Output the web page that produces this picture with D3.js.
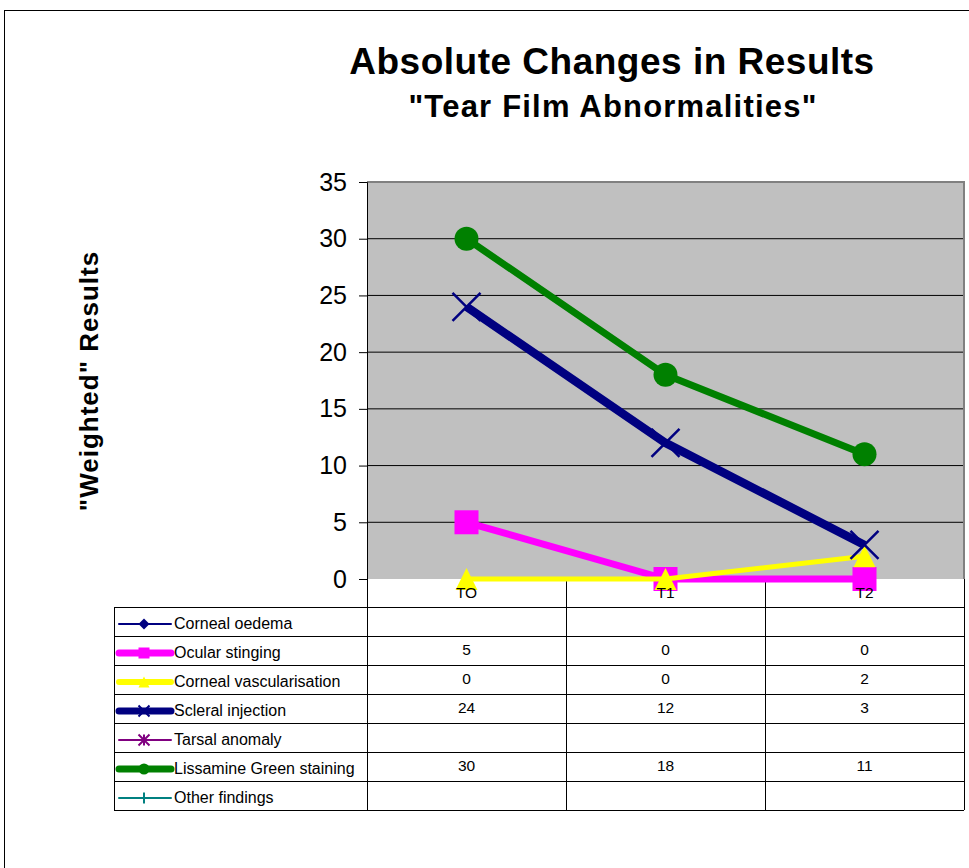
<!DOCTYPE html>
<html><head><meta charset="utf-8">
<script src="https://cdn.jsdelivr.net/npm/d3@7"></script>
<style>body{margin:0;background:#fff}svg{display:block;font-family:"Liberation Sans",Arial,sans-serif}</style>
</head><body>
<svg id="c" width="969" height="868"></svg>
<script>
const categories = ["TO", "T1", "T2"];
const seriesNames = ["Corneal oedema","Ocular stinging","Corneal vascularisation","Scleral injection","Tarsal anomaly","Lissamine Green staining","Other findings"];
const cornealOedema = [null, null, null];
const ocularStinging = [5, 0, 0];
const cornealVascularisation = [0, 0, 2];
const scleralInjection = [24, 12, 3];
const tarsalAnomaly = [null, null, null];
const lissamineGreen = [30, 18, 11];
const otherFindings = [null, null, null];
const yTicks = [0, 5, 10, 15, 20, 25, 30, 35];

const seriesValues = [cornealOedema, ocularStinging, cornealVascularisation, scleralInjection, tarsalAnomaly, lissamineGreen, otherFindings];
const styles = [
  {color:"#000080", w:2, marker:"diamond", ms:12},
  {color:"#FF00FF", w:7, marker:"square", ms:24},
  {color:"#FFFF00", w:5, marker:"triangle", ms:22},
  {color:"#000080", w:8.5, marker:"x", ms:28},
  {color:"#800080", w:2, marker:"asterisk", ms:12},
  {color:"#008000", w:7, marker:"circle", ms:24},
  {color:"#008080", w:2, marker:"plus", ms:12}
];
const legendKeyW = [2,7,6,7,2,7,2];
const legendMs = [11,11,11,11,11,11,11];

const svg = d3.select("#c");
const L = 367, R = 964, T = 182, B = 579;
const x = d3.scaleBand().domain(categories).range([L, R]);
const y = d3.scaleLinear().domain([0, 35]).range([B, T]);

// outer border
svg.append("rect").attr("x",4.5).attr("y",10.5).attr("width",1000).attr("height",1000).attr("fill","none").attr("stroke","#000").attr("stroke-width",1);

// titles
svg.append("text").attr("x",612).attr("y",74).attr("text-anchor","middle").attr("font-size",37).attr("letter-spacing",0.5).attr("font-weight","bold").text("Absolute Changes in Results");
svg.append("text").attr("x",613).attr("y",117).attr("text-anchor","middle").attr("font-size",31).attr("letter-spacing",1.2).attr("font-weight","bold").text("\"Tear Film Abnormalities\"");
svg.append("text").attr("transform","translate(98,381) rotate(-90)").attr("text-anchor","middle").attr("font-size",26).attr("letter-spacing",1).attr("font-weight","bold").text("\"Weighted\" Results");

// plot area
svg.append("rect").attr("x",L).attr("y",T).attr("width",R-L).attr("height",B-T).attr("fill","#C0C0C0");
svg.append("g").selectAll("line").data(yTicks.filter(d=>d>0)).join("line")
  .attr("x1",L).attr("x2",R).attr("y1",d=>y(d)).attr("y2",d=>y(d)).attr("stroke","#000").attr("stroke-width",1);
svg.append("path").attr("d",`M${L},${T}H${R}V${B}`).attr("fill","none").attr("stroke","#808080").attr("stroke-width",2);

// y axis
const yAxis = d3.axisLeft(y).tickValues(yTicks).tickSize(8).tickPadding(12);
const ga = svg.append("g").attr("transform",`translate(${L},0)`).call(yAxis);
ga.select(".domain").attr("stroke","#000");
ga.selectAll("text").attr("font-size",25).attr("font-family","'Liberation Sans',Arial,sans-serif").attr("fill","#000");
ga.selectAll("line").attr("stroke","#000");

// table
const rowH = 29, tTop = 607, tLeft = 114;
const tb = svg.append("g");
for(let i=0;i<=seriesNames.length;i++){
  tb.append("line").attr("x1",tLeft).attr("x2",R).attr("y1",tTop+i*rowH+0.5).attr("y2",tTop+i*rowH+0.5).attr("stroke","#000");
}
tb.append("line").attr("x1",tLeft+0.5).attr("x2",tLeft+0.5).attr("y1",tTop).attr("y2",tTop+7*rowH).attr("stroke","#000");
[...categories.map(c=>x(c)), R].forEach(xx=>{
  tb.append("line").attr("x1",Math.round(xx)+0.5).attr("x2",Math.round(xx)+0.5).attr("y1",B).attr("y2",tTop+7*rowH).attr("stroke","#000");
});

function markerPath(type, s){
  const h=s/2;
  switch(type){
    case "diamond": return `M0,${-h}L${h},0L0,${h}L${-h},0Z`;
    case "square": return `M${-h},${-h}H${h}V${h}H${-h}Z`;
    case "triangle": return `M0,${-h}L${h},${h}H${-h}Z`;
    case "x": return `M${-h},${-h}L${h},${h}M${h},${-h}L${-h},${h}`;
    case "asterisk": return `M${-h},${-h}L${h},${h}M${h},${-h}L${-h},${h}M0,${-h}V${h}`;
    case "plus": return `M${-h},0H${h}M0,${-h}V${h}`;
  }
  return null;
}
function drawMarker(g, type, s, color, cx, cy, sw){
  if(type==="circle"){
    g.append("circle").attr("cx",cx).attr("cy",cy).attr("r",s/2).attr("fill",color);
  } else if(["x","asterisk","plus"].includes(type)){
    g.append("path").attr("transform",`translate(${cx},${cy})`).attr("d",markerPath(type,s)).attr("fill","none").attr("stroke",color).attr("stroke-width",sw||2);
  } else {
    g.append("path").attr("transform",`translate(${cx},${cy})`).attr("d",markerPath(type,s)).attr("fill",color);
  }
}

// legend + values rows
seriesNames.forEach((name,i)=>{
  const top = tTop + i*rowH;
  const cy = top + 17;
  const st = styles[i];
  tb.append("line").attr("x1",119).attr("x2",171).attr("y1",cy).attr("y2",cy).attr("stroke",st.color).attr("stroke-width",legendKeyW[i]).attr("stroke-linecap","round");
  drawMarker(tb, st.marker, legendMs[i], st.color, 144, cy, 2);
  tb.append("text").attr("x",174).attr("y",top+22).attr("font-size",16).text(name);
  seriesValues[i].forEach((v,j)=>{
    if(v!==null) tb.append("text").attr("x",x(categories[j])+x.bandwidth()/2).attr("y",top+19).attr("text-anchor","middle").attr("font-size",15.5).text(v);
  });
});

// series
const line = d3.line().defined(d=>d.v!==null).x(d=>x(d.c)+x.bandwidth()/2).y(d=>y(d.v));
const gs = svg.append("g");
seriesValues.forEach((vals,i)=>{
  const st = styles[i];
  const pts = vals.map((v,j)=>({c:categories[j], v}));
  const g = gs.append("g");
  g.append("path").attr("d",line(pts)).attr("fill","none").attr("stroke",st.color).attr("stroke-width",st.w).attr("stroke-linejoin","round");
  pts.filter(p=>p.v!==null).forEach(p=>{
    drawMarker(g, st.marker, st.ms, st.color, x(p.c)+x.bandwidth()/2, y(p.v), 2.5);
  });
});

// category labels on top
categories.forEach(c=>{
  svg.append("text").attr("x",x(c)+x.bandwidth()/2).attr("y",598).attr("text-anchor","middle").attr("font-size",15.5).text(c);
});
</script>
</body></html>
